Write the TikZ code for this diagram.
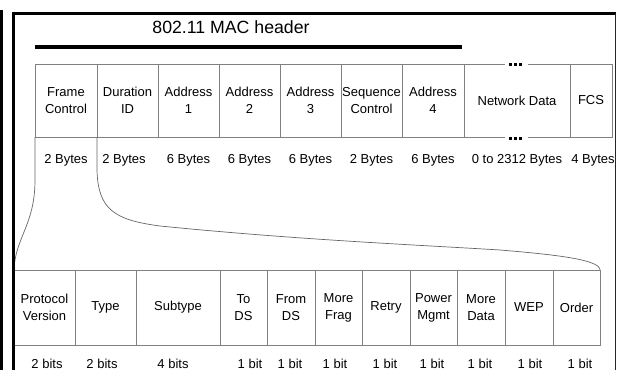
\documentclass[tikz,border=0pt]{standalone}
\usepackage{fontspec}
\setmainfont{Liberation Sans}
\begin{document}
\begin{tikzpicture}[x=1pt,y=-1pt,
  cellfont/.style={font=\fontsize{13}{17}\selectfont},
  cell/.style={cellfont, draw=gray, line width=0.8pt, inner sep=0pt, outer sep=0pt, align=center},
  topcell/.style={cell, minimum height=73pt},
  botcell/.style={cell, minimum height=75pt},
  sizelbl/.style={cellfont, anchor=base, inner sep=0pt},
  frameline/.style={line width=3pt, black},
  link/.style={draw=gray!80!black, line width=0.7pt},
  dot/.style={fill=black, minimum size=3pt, inner sep=0pt, outer sep=0pt}
]
\useasboundingbox (0,0) rectangle (618,370);

% title
\node[font=\fontsize{17.7}{20}\selectfont, anchor=base] (title) at (231,33) {802.11 MAC header};
\coordinate (ulA) at (35,46.5);
\coordinate (ulB) at (462,46.5);
\draw[line width=4pt] (ulA) -- (ulB);

% top table (y 64..137)
\node[topcell, minimum width=62pt] (fc)  at (66,100.5)   {Frame\\Control};
\node[topcell, minimum width=61pt] (dur) at (127.5,100.5) {Duration\\ID};
\node[topcell, minimum width=61pt] (a1)  at (188.5,100.5) {Address\\1};
\node[topcell, minimum width=61pt] (a2)  at (249.5,100.5) {Address\\2};
\node[topcell, minimum width=61pt] (a3)  at (310.5,100.5) {Address\\3};
\node[topcell, minimum width=61pt] (sc)  at (371.5,100.5) {Sequence\\Control};
\node[topcell, minimum width=62pt] (a4)  at (433,100.5)   {Address\\4};
\node[cellfont, minimum width=106pt, minimum height=73pt, inner sep=0pt, outer sep=0pt] (nd) at (517,100.5) {Network Data};
\node[topcell, minimum width=42pt] (fcs) at (591,100.5)   {FCS};

% network data broken top/bottom lines
\draw[draw=gray, line width=0.8pt] (nd.north west) -- ++(41,0);
\draw[draw=gray, line width=0.8pt] (nd.north east) -- ++(-42,0);
\draw[draw=gray, line width=0.8pt] (nd.south west) -- ++(41,0);
\draw[draw=gray, line width=0.8pt] (nd.south east) -- ++(-42,0);
\node[dot] (d1) at (510.5,64) {};
\node[dot] (d2) at (515.5,64) {};
\node[dot] (d3) at (520.5,64) {};
\node[dot] (d4) at (510.5,138) {};
\node[dot] (d5) at (515.5,138) {};
\node[dot] (d6) at (520.5,138) {};

% byte sizes
\node[sizelbl] (bfc)  at (66,163)    {2 Bytes};
\node[sizelbl] (bdur) at (124,163)   {2 Bytes};
\node[sizelbl] (ba1)  at (188.5,163) {6 Bytes};
\node[sizelbl] (ba2)  at (249.5,163) {6 Bytes};
\node[sizelbl] (ba3)  at (310.5,163) {6 Bytes};
\node[sizelbl] (bsc)  at (371.5,163) {2 Bytes};
\node[sizelbl] (ba4)  at (433,163)   {6 Bytes};
\node[sizelbl] (bnd)  at (517,163)   {0 to 2312 Bytes};
\node[sizelbl] (bfcs) at (593,163)   {4 Bytes};

% bottom table (y 270..345)
\node[botcell, minimum width=61pt] (pv)  at (44.5,307.5)  {Protocol\\Version};
\node[botcell, minimum width=61pt] (ty)  at (105.5,307.5) {Type};
\node[botcell, minimum width=84pt] (st)  at (178,307.5)   {Subtype};
\node[botcell, minimum width=47pt] (tds) at (243.5,307.5) {To\\DS};
\node[botcell, minimum width=48pt] (fds) at (291,307.5)   {From\\DS};
\node[botcell, minimum width=47pt] (mf)  at (338.5,307.5) {More\\Frag};
\node[botcell, minimum width=48pt] (rt)  at (386,307.5)   {Retry};
\node[botcell, minimum width=47pt] (pm)  at (433.5,307.5) {Power\\Mgmt};
\node[botcell, minimum width=48pt] (md)  at (481,307.5)   {More\\Data};
\node[botcell, minimum width=48pt] (wep) at (529,307.5)   {WEP};
\node[botcell, minimum width=47pt] (ord) at (576.5,307.5) {Order};

% bit sizes
\node[sizelbl] (bpv)  at (47,368.5)    {2 bits};
\node[sizelbl] (bty)  at (102,368.5)   {2 bits};
\node[sizelbl] (bst)  at (173,368.5)   {4 bits};
\node[sizelbl] (btds) at (250,368.5)   {1 bit};
\node[sizelbl] (bfds) at (290,368.5)   {1 bit};
\node[sizelbl] (bmf)  at (335,368.5)   {1 bit};
\node[sizelbl] (brt)  at (385,368.5)   {1 bit};
\node[sizelbl] (bpm)  at (432,368.5)   {1 bit};
\node[sizelbl] (bmd)  at (480,368.5)   {1 bit};
\node[sizelbl] (bwep) at (530,368.5)   {1 bit};
\node[sizelbl] (bord) at (580,368.5)   {1 bit};

% expansion curves
\draw[link] (fc.south west) -- ++(0,43) .. controls +(0,45) and +(1,-32) .. (pv.north west);
\coordinate (cA) at (160,226);
\coordinate (cB) at (500,250);
\draw[link] (dur.south west) -- ++(0,33) .. controls +(1,40) and +(-45,-6) .. (cA)
  .. controls +(140,14) and +(-80,-5) .. (cB)
  .. controls +(60,5) and +(0,-10) .. (ord.north east);

% frame lines
\coordinate (f0) at (1.5,10);
\coordinate (f1) at (1.5,370);
\draw[frameline] (f0) -- (f1);
\coordinate (g0) at (13.5,370);
\coordinate (g1) at (13.5,13.5);
\coordinate (g2) at (615.5,13.5);
\coordinate (g3) at (615.5,370);
\draw[frameline, line join=miter] (g0) -- (g1) -- (g2);
\draw[line width=1.5pt, black!85] (g2) -- (g3);
\end{tikzpicture}
\end{document}
